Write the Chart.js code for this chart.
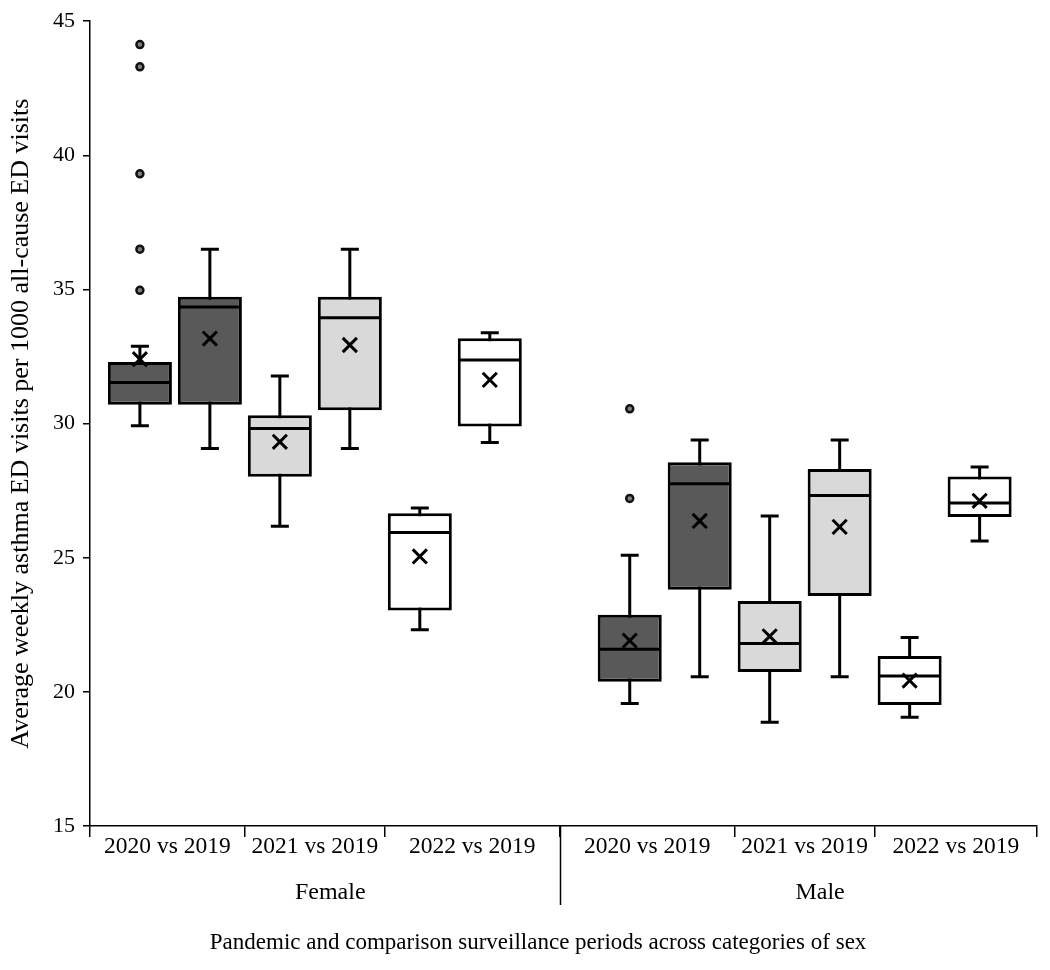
<!DOCTYPE html>
<html>
<head>
<meta charset="utf-8">
<script src="https://cdn.jsdelivr.net/npm/chart.js@4.4.1/dist/chart.umd.min.js"></script>
<style>
  body { margin: 0; background: #fff; }
  #wrap { width: 1050px; height: 970px; position: relative; }
</style>
</head>
<body>
<div id="wrap"><canvas id="boxChart"></canvas></div>
<script>
const groups = ['Female', 'Male'];
const periods = ['2020 vs 2019', '2021 vs 2019', '2022 vs 2019'];

// order of boxes: Female 2020, 2019, 2021, 2019, 2022, 2019, then Male the same way
const whiskerLow  = [29.92, 29.07, 26.17, 29.07, 22.32, 29.30, 19.57, 20.56, 18.87, 20.56, 19.05, 25.62];
const q1          = [30.70, 30.70, 28.02, 30.50, 23.03, 29.89, 20.38, 23.81, 20.74, 23.57, 19.51, 26.52];
const median      = [31.53, 34.35, 29.82, 33.95, 25.94, 32.37, 21.59, 27.76, 21.80, 27.32, 20.59, 27.04];
const q3          = [32.30, 34.73, 30.31, 34.73, 26.66, 33.18, 22.87, 28.56, 23.39, 28.31, 21.34, 28.03];
const whiskerHigh = [32.88, 36.50, 31.77, 36.50, 26.85, 33.39, 25.09, 29.39, 26.56, 29.39, 22.03, 28.38];
const means       = [32.40, 33.17, 29.32, 32.93, 25.05, 31.63, 21.91, 26.37, 22.07, 26.15, 20.42, 27.12];
const outliers    = [[34.97, 36.50, 39.31, 43.30, 44.13], [], [], [], [], [],
                     [27.21, 30.55], [], [], [], [], []];

const yTitle = 'Average weekly asthma ED visits per 1000 all-cause ED visits';
const xTitle = 'Pandemic and comparison surveillance periods across categories of sex';

const serif = "'Liberation Serif', 'Times New Roman', serif";
const fills = ['#595959', '#d9d9d9', '#ffffff'];
const perGroup = periods.length * 2;
const groupStep = perGroup + 1;

// slot position of each box on the linear x scale
const pos = q1.map((v, i) => Math.floor(i / perGroup) * groupStep + (i % perGroup));
const boxFill = q1.map((v, i) => fills[Math.floor((i % perGroup) / 2)]);

const xMin = -0.713, xMax = 12.82;

const boxData = pos.map((p, i) => ({ x: p, y: [q1[i], q3[i]] }));
const whiskerData = [];
pos.forEach((p, i) => {
  whiskerData.push({ x: p, y: whiskerLow[i] }, { x: p, y: whiskerHigh[i] }, { x: p, y: null });
});
const capData = [];
pos.forEach((p, i) => {
  capData.push({ x: p, y: whiskerLow[i] }, { x: p, y: whiskerHigh[i] });
});
const medianData = pos.map((p, i) => ({ x: p, y: median[i] }));
const meanData = pos.map((p, i) => ({ x: p, y: means[i] }));
const outlierData = [];
outliers.forEach((list, i) => list.forEach(v => outlierData.push({ x: pos[i], y: v })));

// separators of the period labels on the x axis
function groupBounds(g) {
  const start = g === 0 ? xMin : g * groupStep - 1;
  const end = g === groups.length - 1 ? xMax : g * groupStep + perGroup;
  const inner = [];
  for (let k = 1; k < periods.length; k++) inner.push(g * groupStep + k * 2 - 0.5);
  return [start, ...inner, end];
}
const sepValues = [];
groups.forEach((g, gi) => groupBounds(gi).forEach(v => { if (!sepValues.includes(v)) sepValues.push(v); }));

const axisLabels = {
  id: 'axisLabels',
  afterDraw(chart) {
    const { ctx, chartArea } = chart;
    const x = chart.scales.x;
    ctx.save();
    ctx.fillStyle = '#000';
    ctx.textAlign = 'center';
    ctx.textBaseline = 'alphabetic';
    groups.forEach((name, gi) => {
      const b = groupBounds(gi);
      ctx.font = '23.5px ' + serif;
      periods.forEach((p, k) => {
        const cx = (x.getPixelForValue(b[k]) + x.getPixelForValue(b[k + 1])) / 2;
        ctx.fillText(p, cx, chartArea.bottom + 27);
      });
      ctx.font = '24px ' + serif;
      ctx.fillText(name, x.getPixelForValue(gi * groupStep + 2.72), chartArea.bottom + 73);
      // long divider between the two groups
      if (gi > 0) {
        const dx = Math.round(x.getPixelForValue(gi * groupStep - 1)) + 0.5;
        ctx.strokeStyle = '#000';
        ctx.lineWidth = 1.5;
        ctx.beginPath();
        ctx.moveTo(dx, chartArea.bottom);
        ctx.lineTo(dx, chartArea.bottom + 79);
        ctx.stroke();
      }
    });
    // x axis title, sits a little left of the axis centre in the original
    ctx.font = '23px ' + serif;
    ctx.textBaseline = 'middle';
    ctx.fillText(xTitle, x.getPixelForValue(5.69), chartArea.bottom + 117);
    ctx.restore();
  }
};

new Chart(document.getElementById('boxChart'), {
  type: 'bar',
  data: {
    datasets: [
      {
        type: 'scatter', data: meanData, order: 0,
        pointStyle: 'crossRot', pointRadius: 10, pointHoverRadius: 10,
        borderColor: '#000', borderWidth: 3, pointBorderWidth: 3
      },
      {
        type: 'scatter', data: medianData, order: 1,
        pointStyle: 'line', pointRadius: 30, pointHoverRadius: 30,
        borderColor: '#000', borderWidth: 3, pointBorderWidth: 3
      },
      {
        type: 'scatter', data: capData, order: 1,
        pointStyle: 'line', pointRadius: 9, pointHoverRadius: 9,
        borderColor: '#000', borderWidth: 3, pointBorderWidth: 3
      },
      {
        type: 'scatter', data: outlierData, order: 1,
        pointStyle: 'circle', pointRadius: 3.5, pointHoverRadius: 3.5,
        backgroundColor: '#808080', borderColor: '#111', borderWidth: 2.5, pointBorderWidth: 2.5
      },
      {
        type: 'bar', data: boxData, order: 5,
        backgroundColor: boxFill, borderColor: '#000', borderWidth: 3,
        borderSkipped: false, barPercentage: 0.915, categoryPercentage: 1
      },
      {
        type: 'line', data: whiskerData, order: 10,
        borderColor: '#000', borderWidth: 3, pointRadius: 0, spanGaps: false, tension: 0
      }
    ]
  },
  options: {
    responsive: true,
    maintainAspectRatio: false,
    animation: false,
    layout: { autoPadding: false, padding: { top: 20, right: 13, bottom: 0, left: 0 } },
    plugins: { legend: { display: false }, tooltip: { enabled: false } },
    scales: {
      x: {
        type: 'linear', min: xMin, max: xMax, offset: false, bounds: 'data',
        ticks: { display: false },
        afterBuildTicks(scale) { scale.ticks = sepValues.map(v => ({ value: v })); },
        grid: { offset: false, drawOnChartArea: false, drawTicks: true, tickLength: 11, color: '#000', lineWidth: 1.5 },
        border: { display: true, color: '#000', width: 1.5 },
        afterFit(scale) { scale.height = 144; }
      },
      y: {
        min: 15, max: 45, beginAtZero: false,
        ticks: { stepSize: 5, color: '#000', font: { family: serif, size: 22 }, padding: 8 },
        grid: { drawOnChartArea: false, drawTicks: true, tickLength: 7, color: '#000', lineWidth: 1.5 },
        border: { display: true, color: '#000', width: 1.5 },
        title: { display: true, text: yTitle, color: '#000', font: { family: serif, size: 26 }, padding: { top: 6, bottom: 0 } },
        afterFit(scale) { scale.width = 90; }
      }
    }
  },
  plugins: [axisLabels]
});
</script>
</body>
</html>
